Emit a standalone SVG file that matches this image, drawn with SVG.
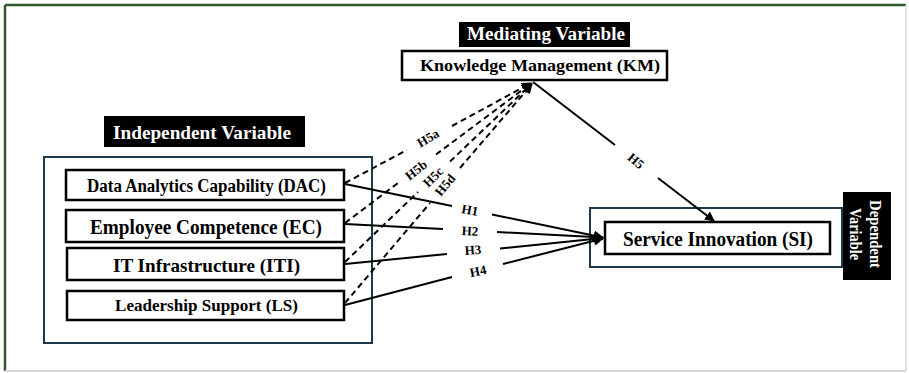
<svg xmlns="http://www.w3.org/2000/svg" width="909" height="373" viewBox="0 0 909 373">
<style>
.t{font-family:"Liberation Serif","Times New Roman",serif;font-weight:bold;fill:#000}
.w{fill:#fff}
.node{fill:#fff;stroke:#000;stroke-width:2.5}
.frame{fill:none;stroke:#1e3a48;stroke-width:2}
.lab{fill:#000}
.c{stroke:#000;stroke-width:2;fill:none}
.d{stroke:#000;stroke-width:2;fill:none;stroke-dasharray:6 4}
.h{font-size:13px;text-anchor:middle;dominant-baseline:central}
</style>
<defs>
<marker id="ah" viewBox="0 0 10 10" refX="9" refY="5" markerWidth="5" markerHeight="5" orient="auto" markerUnits="strokeWidth">
<path d="M0,0 L10,5 L0,10 z" fill="#000"/>
</marker>
</defs>
<rect width="909" height="373" fill="#fff"/>
<g id="outer-frame">
<line x1="5" y1="5" x2="906" y2="5" stroke="#2f5a30" stroke-width="2.5"/>
<line x1="5" y1="5" x2="5" y2="371" stroke="#2f5a30" stroke-width="2.5"/>
<line x1="906" y1="5" x2="906" y2="371" stroke="#d8d8d8" stroke-width="1.5"/>
<line x1="5" y1="371" x2="906" y2="371" stroke="#d8d8d8" stroke-width="2"/>
</g>
<g id="independent-group">
<rect class="frame" x="44" y="157" width="328" height="186"/>
<rect class="lab" x="104" y="116" width="201" height="31"/>
<text class="t w" x="202" y="139" font-size="19" text-anchor="middle" textLength="178" lengthAdjust="spacingAndGlyphs">Independent Variable</text>
</g>
<g id="mediating-label">
<rect class="lab" x="459" y="22" width="171" height="25"/>
<text class="t w" x="546" y="40" font-size="18" text-anchor="middle" textLength="158" lengthAdjust="spacingAndGlyphs">Mediating Variable</text>
</g>
<g id="dependent-group">
<rect class="frame" x="590" y="208" width="252" height="59" stroke-width="1.8"/>
<rect class="lab" x="843" y="192" width="48" height="88"/>
<g transform="translate(870,234) rotate(90)">
<text class="t w" x="0" y="0" font-size="17" text-anchor="middle" textLength="68" lengthAdjust="spacingAndGlyphs">Dependent</text>
<text class="t w" x="0" y="20" font-size="17" text-anchor="middle" textLength="52" lengthAdjust="spacingAndGlyphs">Variable</text>
</g>
</g>
<g id="connectors">
<line class="c" x1="345" y1="184" x2="452" y2="206"/>
<line class="c" x1="492" y1="214.5" x2="603" y2="237.5" marker-end="url(#ah)"/>
<line class="c" x1="345" y1="224" x2="443" y2="229"/>
<line class="c" x1="497" y1="232" x2="603" y2="237.5" marker-end="url(#ah)"/>
<line class="c" x1="345" y1="264" x2="447" y2="254"/>
<line class="c" x1="500" y1="248.5" x2="603" y2="238" marker-end="url(#ah)"/>
<line class="c" x1="345" y1="305" x2="452" y2="277"/>
<line class="c" x1="503" y1="264" x2="603" y2="238.5" marker-end="url(#ah)"/>
<line class="c" x1="533" y1="82" x2="615" y2="145"/>
<line class="c" x1="658" y1="178" x2="714" y2="221" marker-end="url(#ah)"/>
<line class="d" x1="345" y1="183" x2="407" y2="150"/>
<line class="d" x1="452" y1="126" x2="531" y2="83" marker-end="url(#ah)"/>
<line class="d" x1="345" y1="223" x2="398" y2="183"/>
<line class="d" x1="436" y1="154.5" x2="531" y2="83.5" marker-end="url(#ah)"/>
<line class="d" x1="345" y1="262" x2="418" y2="192"/>
<line class="d" x1="450" y1="161.5" x2="531.5" y2="84" marker-end="url(#ah)"/>
<line class="d" x1="345" y1="303" x2="430" y2="203"/>
<line class="d" x1="460" y1="168" x2="532" y2="84" marker-end="url(#ah)"/>
<text class="t h" transform="translate(470,210) rotate(10)">H1</text>
<text class="t h" transform="translate(470,231) rotate(3)">H2</text>
<text class="t h" transform="translate(473,250) rotate(-4)">H3</text>
<text class="t h" transform="translate(478,271) rotate(-12)">H4</text>
<text class="t h" transform="translate(636,161) rotate(40)">H5</text>
<text class="t h" transform="translate(428,138) rotate(-30)">H5a</text>
<text class="t h" transform="translate(416,170) rotate(-38)">H5b</text>
<text class="t h" transform="translate(433,177) rotate(-45)">H5c</text>
<text class="t h" transform="translate(445,185) rotate(-50)">H5d</text>
</g>
<g id="node-km">
<rect class="node" x="402" y="51" width="265" height="29"/>
<text class="t" x="540" y="71" font-size="17" text-anchor="middle" textLength="240" lengthAdjust="spacingAndGlyphs">Knowledge Management (KM)</text>
</g>
<g id="node-dac">
<rect class="node" x="66" y="170" width="278" height="30"/>
<text class="t" x="206.5" y="192" font-size="18" text-anchor="middle" textLength="239" lengthAdjust="spacingAndGlyphs">Data Analytics Capability (DAC)</text>
</g>
<g id="node-ec">
<rect class="node" x="66" y="210" width="278" height="32"/>
<text class="t" x="206" y="234" font-size="20" text-anchor="middle" textLength="232" lengthAdjust="spacingAndGlyphs">Employee Competence (EC)</text>
</g>
<g id="node-iti">
<rect class="node" x="67" y="248" width="277" height="32"/>
<text class="t" x="206.5" y="272" font-size="19" text-anchor="middle" textLength="187" lengthAdjust="spacingAndGlyphs">IT Infrastructure (ITI)</text>
</g>
<g id="node-ls">
<rect class="node" x="67" y="291" width="277" height="29"/>
<text class="t" x="206.5" y="311" font-size="17.5" text-anchor="middle" textLength="183" lengthAdjust="spacingAndGlyphs">Leadership Support (LS)</text>
</g>
<g id="node-si">
<rect class="node" x="605" y="222" width="225" height="32"/>
<text class="t" x="718" y="246" font-size="20" text-anchor="middle" textLength="190" lengthAdjust="spacingAndGlyphs">Service Innovation (SI)</text>
</g>
</svg>
